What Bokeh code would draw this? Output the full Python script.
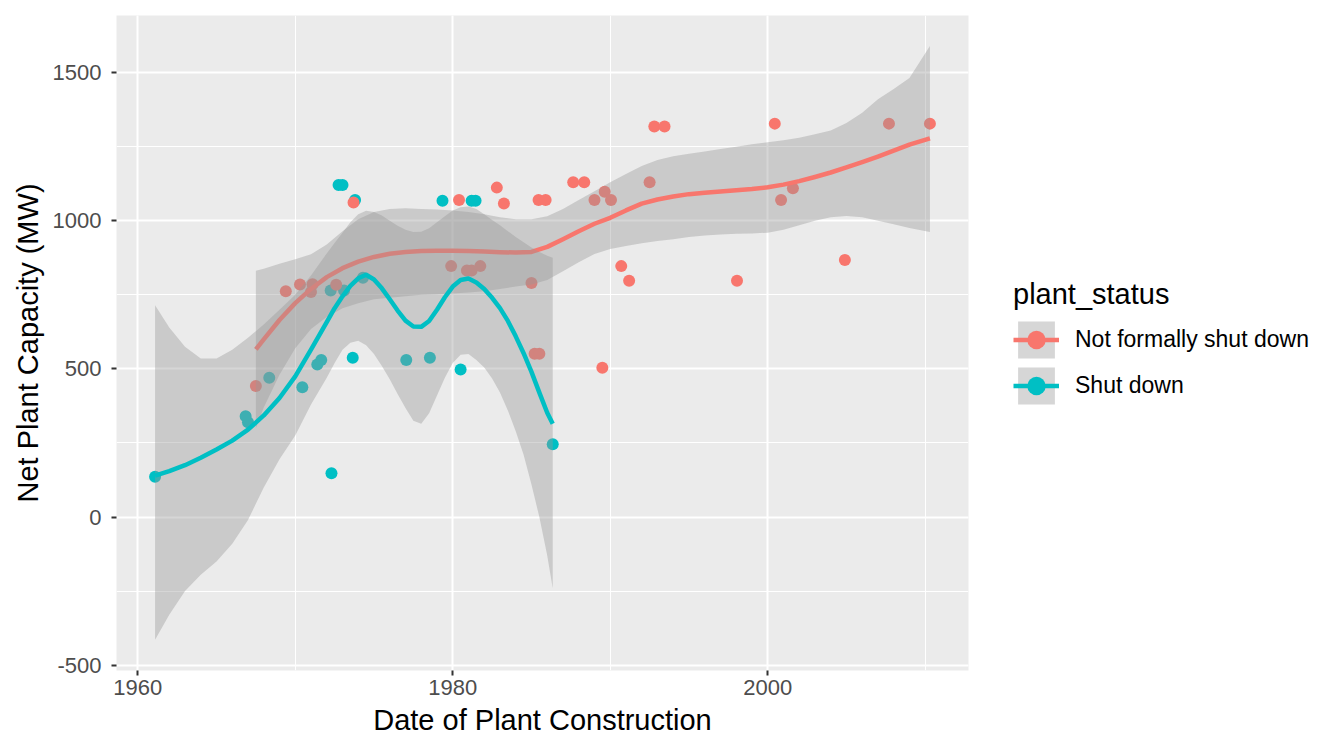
from bokeh.plotting import figure
from bokeh.models import Range1d, SingleIntervalTicker, Legend, LegendItem, PrintfTickFormatter
from bokeh.embed import file_html
from bokeh.resources import INLINE

RED = "#F8766D"
CYAN = "#00BFC4"
FONT = "Liberation Sans"

# ---------------- data: points ----------------
nfsd_year = [1967.5, 1969.4, 1970.3, 1971.0, 1971.1, 1972.6, 1973.7, 1979.9, 1980.9, 1981.2,
             1981.75, 1980.4, 1982.8, 1983.25, 1985.0, 1985.2, 1985.5, 1985.45, 1985.9, 1987.65,
             1988.35, 1989.0, 1989.65, 1990.05, 1989.5, 1990.7, 1991.2, 1992.5, 1992.8, 1993.45,
             1998.05, 2000.45, 2000.85, 2001.6, 2004.9, 2007.7, 2010.3]
nfsd_mw = [442, 762, 785, 760, 786, 784, 1062, 847, 832, 832,
           847, 1070, 1112, 1058, 790, 551, 551, 1070, 1070, 1130,
           1130, 1070, 1098, 1070, 504, 847, 798, 1130, 1318, 1318,
           798, 1328, 1070, 1110, 868, 1328, 1328]

sd_year = [1961.1, 1966.85, 1967.0, 1968.35, 1970.45, 1971.4, 1971.65, 1972.3, 1972.25, 1973.1,
           1974.3, 1973.65, 1977.05, 1978.55, 1980.5, 1986.35, 1972.75, 1973.0, 1973.8, 1979.35,
           1981.2, 1981.45]
sd_mw = [136, 340, 320, 470, 438, 515, 530, 148, 765, 765,
         808, 538, 530, 538, 498, 246, 1121, 1121, 1070, 1068,
         1068, 1068]

# ---------------- data: smooth fits ----------------
nfsd_fit_year = [1967.5, 1968, 1969, 1970, 1971, 1972, 1973, 1974, 1975, 1976, 1977, 1978, 1979,
                 1980, 1981, 1982, 1983, 1984, 1985, 1986, 1987, 1988, 1989, 1990, 1991, 1992,
                 1993, 1994, 1995, 1996, 1997, 1998, 1999, 2000, 2001, 2002, 2003, 2004, 2005,
                 2006, 2007, 2008, 2009, 2010.3]
nfsd_fit = [566, 600, 665, 722, 770, 810, 840, 862, 878, 889, 895, 898, 899,
            899, 898, 896, 894, 893, 895, 912, 938, 965, 990, 1010, 1035, 1058,
            1072, 1082, 1090, 1095, 1099, 1103, 1107, 1113, 1122, 1134, 1148, 1163, 1180,
            1198, 1217, 1237, 1257, 1278]
nfsd_hi = [831, 838, 855, 870, 887, 920, 965, 1005, 1030, 1040, 1042, 1040, 1038,
           1035, 1030, 1022, 1012, 1005, 1005, 1015, 1040, 1070, 1100, 1130, 1158, 1185,
           1205, 1218, 1226, 1234, 1242, 1250, 1258, 1265, 1272, 1280, 1292, 1305, 1330,
           1365, 1410, 1445, 1482, 1590]
nfsd_lo = [300, 370, 480, 570, 635, 675, 705, 722, 735, 740, 745, 750, 752,
           755, 758, 762, 770, 778, 785, 800, 830, 860, 888, 905, 915, 924,
           932, 938, 945, 950, 954, 956, 957, 960, 970, 985, 1000, 1012, 1016,
           1012, 1000, 988, 976, 962]

sd_fit_year = [1961.1, 1962, 1963, 1964, 1965, 1966, 1967, 1968, 1969, 1970, 1971,
               1972, 1972.5, 1973, 1973.5, 1974, 1974.5, 1975, 1975.5, 1976, 1976.5,
               1977, 1977.5, 1978, 1978.5, 1979, 1979.5, 1980, 1980.5, 1981, 1981.5,
               1982, 1982.5, 1983, 1983.5, 1984, 1984.5, 1985, 1985.5, 1986, 1986.35]
sd_fit = [140, 155, 175, 200, 228, 258, 295, 343, 402, 475, 565,
          658, 705, 745, 780, 806, 818, 802, 772, 735, 697,
          663, 643, 642, 662, 700, 742, 778, 800, 805, 792,
          770, 740, 705, 662, 610, 553, 490, 420, 352, 315]
sd_hi = [715, 640, 575, 535, 535, 565, 605, 650, 700, 750, 815,
         890, 925, 960, 995, 1022, 1034, 1030, 1018, 1000, 983,
         970, 962, 963, 975, 995, 1015, 1035, 1046, 1048, 1040,
         1022, 1003, 985, 965, 945, 928, 910, 895, 882, 875]
sd_lo = [-414, -330, -250, -195, -150, -90, -10, 100, 195, 275, 380,
         470, 520, 565, 588, 595, 580, 550, 510, 465, 415,
         368, 325, 315, 350, 410, 470, 520, 548, 550, 530,
         505, 468, 420, 360, 290, 210, 110, 0, -130, -240]

# ---------------- tick settings ----------------
x_major_interval = 20
y_major_interval = 500

p = figure(frame_width=852, frame_height=655,
           x_range=Range1d(1958.65, 2012.75), y_range=Range1d(-518, 1693),
           output_backend="svg", toolbar_location=None,
           min_border_left=116, min_border_top=15, min_border_right=20, min_border_bottom=78,
           background_fill_color="#EBEBEB", border_fill_color="white")
p.outline_line_color = None

p.xaxis.ticker = SingleIntervalTicker(interval=x_major_interval, num_minor_ticks=2)
p.yaxis.ticker = SingleIntervalTicker(interval=y_major_interval, num_minor_ticks=2)
p.yaxis.formatter = PrintfTickFormatter(format="%d")
for g in (p.xgrid[0], p.ygrid[0]):
    g.grid_line_color = "white"
    g.grid_line_width = 2
    g.minor_grid_line_color = "white"
    g.minor_grid_line_width = 1

for ax in (p.xaxis[0], p.yaxis[0]):
    ax.axis_line_color = None
    ax.minor_tick_line_color = None
    ax.major_tick_line_color = "#333333"
    ax.major_tick_line_width = 2
    ax.major_tick_out = 5
    ax.major_tick_in = 0
    ax.major_label_text_color = "#4D4D4D"
    ax.major_label_text_font = FONT
    ax.major_label_text_font_size = "22px"
    ax.axis_label_text_font = FONT
    ax.axis_label_text_font_size = "29px"
    ax.axis_label_text_font_style = "normal"
    ax.axis_label_text_color = "black"

p.xaxis.axis_label = "Date of Plant Construction"
p.yaxis.axis_label = "Net Plant Capacity (MW)"
p.xaxis.major_label_standoff = 4
p.yaxis.major_label_standoff = 10
p.xaxis.axis_label_standoff = 6
p.yaxis.axis_label_standoff = 6

# points first (ggplot layer order)
sd_pts = p.scatter(sd_year, sd_mw, size=12, fill_color=CYAN, line_color=None)
nf_pts = p.scatter(nfsd_year, nfsd_mw, size=12, fill_color=RED, line_color=None)

# smooth: red ribbon + line, then cyan ribbon + line
nf_band = p.varea(x=nfsd_fit_year, y1=nfsd_lo, y2=nfsd_hi, fill_color="#999999", fill_alpha=0.4)
nf_line = p.line(nfsd_fit_year, nfsd_fit, line_color=RED, line_width=4.5, line_join="round")
sd_band = p.varea(x=sd_fit_year, y1=sd_lo, y2=sd_hi, fill_color="#999999", fill_alpha=0.4)
sd_line = p.line(sd_fit_year, sd_fit, line_color=CYAN, line_width=4.5, line_join="round")

legend = Legend(items=[
    LegendItem(label="Not formally shut down", renderers=[nf_band, nf_line, nf_pts]),
    LegendItem(label="Shut down", renderers=[sd_band, sd_line, sd_pts]),
], location="center_left")
legend.title = "plant_status"
legend.title_text_font = FONT
legend.title_text_font_size = "29px"
legend.title_text_font_style = "normal"
legend.title_text_color = "black"
legend.title_standoff = 6
legend.label_text_font = FONT
legend.label_text_font_size = "23px"
legend.label_text_color = "black"
legend.glyph_width = 46
legend.glyph_height = 46
legend.label_standoff = 16
legend.spacing = 0
legend.padding = 10
legend.margin = 45
legend.border_line_color = None
legend.background_fill_alpha = 0
p.add_layout(legend, "right")

open("out.html", "w").write(file_html(p, INLINE))
